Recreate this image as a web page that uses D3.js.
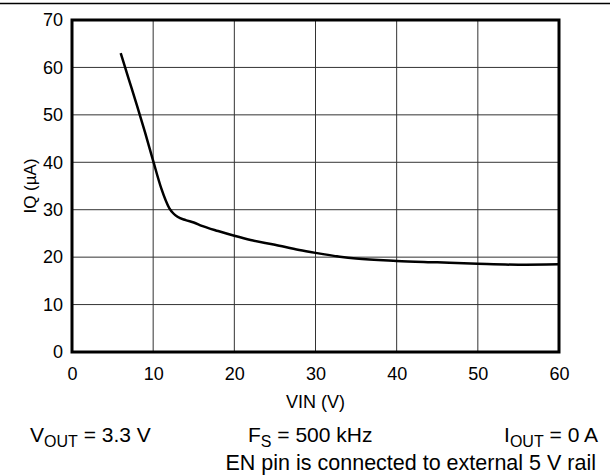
<!DOCTYPE html>
<html>
<head>
<meta charset="utf-8">
<script src="https://cdn.jsdelivr.net/npm/d3@7"></script>
<style>
  body { margin: 0; background: #fff; }
  svg { font-family: "Liberation Sans", Arial, sans-serif; }
</style>
</head>
<body>
<svg id="chart" width="610" height="475"></svg>
<script>
// IQ vs VIN
const vin = [6, 7, 8, 9, 10, 11, 12, 12.5, 13, 14, 15, 16, 18, 20, 22, 25, 28, 30, 33, 35, 40, 45, 50, 55, 60];
const iq = [63, 57.5, 52, 46.3, 40.3, 34.5, 30.3, 29.2, 28.5, 27.8, 27.3, 26.6, 25.5, 24.5, 23.6, 22.6, 21.5, 20.9, 20.1, 19.7, 19.2, 18.9, 18.6, 18.4, 18.5];
const xTicks = [0, 10, 20, 30, 40, 50, 60];
const yTicks = [0, 10, 20, 30, 40, 50, 60, 70];

(function() {
    var svg = d3.select('#chart');
    var left = 72, right = 559, top = 20, bottom = 352;

    var x = d3.scaleLinear().domain([0, 60]).range([left, right]);
    var y = d3.scaleLinear().domain([0, 70]).range([bottom, top]);

    // rule across the top
    svg.append('line')
    .attr('x1', 0).attr('x2', 610)
    .attr('y1', 3.5).attr('y2', 3.5)
    .style('stroke', '#000')
    .style('stroke-width', 1.5);

    // grid
    svg.append('g').selectAll('line')
    .data(xTicks.slice(1, -1))
    .join('line')
    .attr('x1', d => x(d)).attr('x2', d => x(d))
    .attr('y1', top).attr('y2', bottom)
    .style('stroke', '#333')
    .style('stroke-width', 1);

    svg.append('g').selectAll('line')
    .data(yTicks.slice(1, -1))
    .join('line')
    .attr('x1', left).attr('x2', right)
    .attr('y1', d => y(d)).attr('y2', d => y(d))
    .style('stroke', '#333')
    .style('stroke-width', 1);

    // axes (labels only)
    var xAxis = svg.append('g')
    .attr('transform', 'translate(0,' + bottom + ')')
    .call(d3.axisBottom(x).tickValues(xTicks).tickSize(0).tickPadding(15));
    var yAxis = svg.append('g')
    .attr('transform', 'translate(' + left + ',0)')
    .call(d3.axisLeft(y).tickValues(yTicks).tickSize(0).tickPadding(9));
    [xAxis, yAxis].forEach(function(a) {
        a.select('.domain').remove();
        a.selectAll('text')
        .style('font-size', '18px')
        .style('font-family', '"Liberation Sans", Arial, sans-serif')
        .style('fill', '#000');
    });

    // frame
    svg.append('rect')
    .attr('x', left).attr('y', top)
    .attr('width', right - left).attr('height', bottom - top)
    .style('fill', 'none')
    .style('stroke', '#000')
    .style('stroke-width', 3);

    // curve
    var line = d3.line()
    .x((d, i) => x(vin[i]))
    .y(d => y(d))
    .curve(d3.curveMonotoneX);
    svg.append('path')
    .datum(iq)
    .attr('d', line)
    .style('fill', 'none')
    .style('stroke', '#000')
    .style('stroke-width', 2.5);

    // axis titles
    svg.append('text')
    .attr('x', x(30)).attr('y', 408)
    .attr('text-anchor', 'middle')
    .style('font-size', '18px')
    .text('VIN (V)');

    svg.append('text')
    .attr('transform', 'translate(36,' + ((top + bottom) / 2) + ') rotate(-90)')
    .attr('text-anchor', 'middle')
    .style('font-size', '17px')
    .text('IQ (µA)');

    // conditions
    var t1 = svg.append('text').attr('x', 30).attr('y', 442).style('font-size', '21px');
    t1.append('tspan').text('V');
    t1.append('tspan').attr('dy', 5).style('font-size', '16px').text('OUT');
    t1.append('tspan').attr('dy', -5).text(' = 3.3 V');

    var t2 = svg.append('text').attr('x', 248).attr('y', 442).style('font-size', '21px');
    t2.append('tspan').text('F');
    t2.append('tspan').attr('dy', 5).style('font-size', '16px').text('S');
    t2.append('tspan').attr('dy', -5).text(' = 500 kHz');

    var t3 = svg.append('text').attr('x', 598).attr('y', 442).attr('text-anchor', 'end').style('font-size', '21px');
    t3.append('tspan').text('I');
    t3.append('tspan').attr('dy', 5).style('font-size', '16px').text('OUT');
    t3.append('tspan').attr('dy', -5).text(' = 0 A');

    svg.append('text')
    .attr('x', 596).attr('y', 470)
    .attr('text-anchor', 'end')
    .style('font-size', '21.5px')
    .text('EN pin is connected to external 5 V rail');
})();
</script>
</body>
</html>
